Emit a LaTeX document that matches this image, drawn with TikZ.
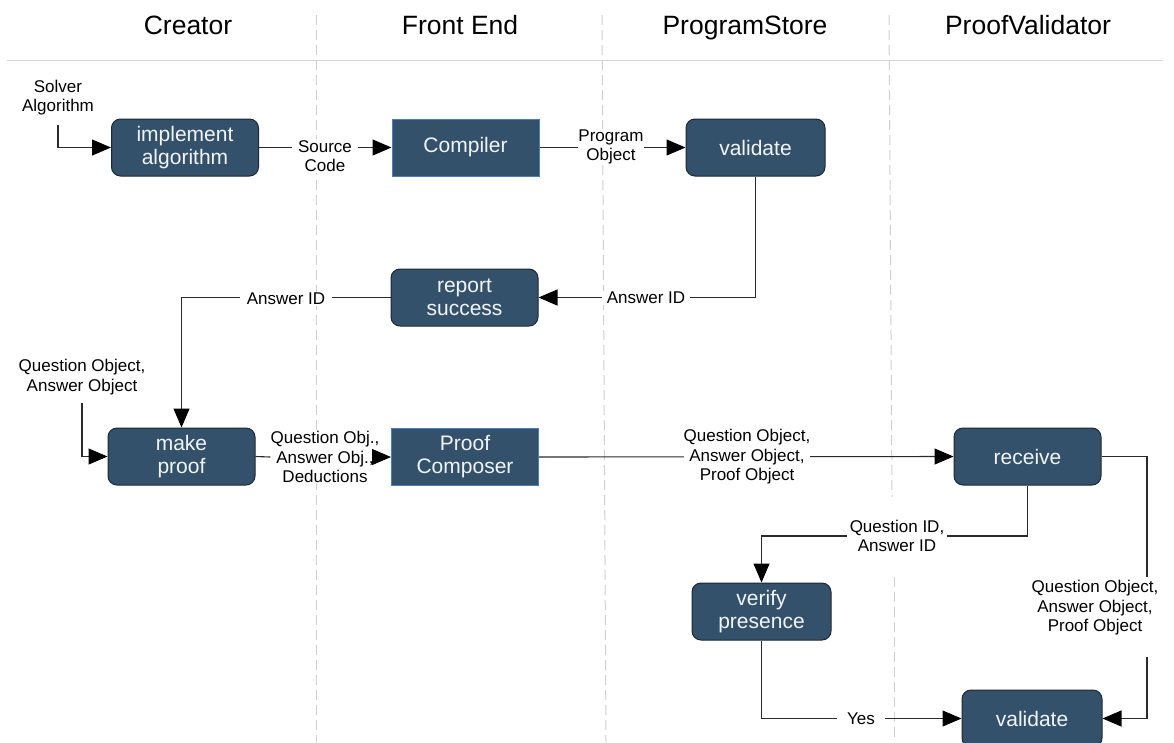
\documentclass[tikz,border=0pt]{standalone}
\usepackage{fontspec}
\setmainfont{Liberation Sans}
\usetikzlibrary{arrows.meta}
\definecolor{boxfill}{HTML}{34516B}
\definecolor{boxedge}{HTML}{1C2833}
\definecolor{bluedge}{HTML}{4A7EC2}
\definecolor{lanegray}{HTML}{CFCFCF}
\definecolor{rulegray}{HTML}{D6D6D6}
\definecolor{wire}{HTML}{2A2A2A}
\definecolor{boxtext}{HTML}{F2F5F8}

\begin{document}
\begin{tikzpicture}[x=1pt,y=-1pt,
  stepbox/.style={fill=boxfill, text=boxtext, font=\fontsize{21}{23}\selectfont,
    align=center, minimum width=147pt, minimum height=57pt, inner sep=0pt},
  roundbox/.style={stepbox, draw=boxedge, line width=1pt, rounded corners=9pt},
  squarebox/.style={stepbox, draw=bluedge, line width=1pt},
  lane/.style={draw=lanegray, line width=1pt, dash pattern=on 10pt off 5pt},
  flow/.style={draw=wire, line width=1.1pt,
    -{Triangle[length=19pt,width=16pt,fill=black,color=black]}},
  plain/.style={draw=wire, line width=1.1pt},
  tag/.style={fill=white, text=black, font=\fontsize{17}{19.5}\selectfont,
    align=center, inner xsep=2pt, inner ysep=1pt},
  lanehead/.style={font=\fontsize{26.5}{30}\selectfont, anchor=base}]

\useasboundingbox (0,0) rectangle (1174,742);
\clip (0,0) rectangle (1174,742);

% swimlane dividers and header rule
\draw[lane] (316,15) -- (316,742);
\draw[lane] (602,15) -- (606,742);
\draw[lane] (889,15) -- (892,497);
\draw[lane] (894,577) -- (894,742);
\draw[draw=rulegray, line width=1pt] (7,60) -- (1163,60);

% lane titles
\node[lanehead] (hcreator) at (188,34) {Creator};
\node[lanehead] (hfront)   at (460,34) {Front End};
\node[lanehead] (hstore)   at (745,34) {ProgramStore};
\node[lanehead] (hvalid)   at (1028,34) {ProofValidator};

% process steps
\node[roundbox]  (impl)     at (185,147.5)   {implement\\algorithm};
\node[squarebox] (comp)     at (465.5,147.5) {Compiler};
\node[roundbox, minimum width=139pt] (val1) at (755.5,147.5) {validate};
\node[roundbox]  (report)   at (464.5,297.5) {report\\success};
\node[roundbox]  (make)     at (181.5,456.5) {make\\proof};
\node[squarebox] (composer) at (465,457)     {Proof\\Composer};
\node[roundbox]  (receive)  at (1027.5,456.5) {receive};
\node[roundbox, minimum width=139pt] (verify) at (761.5,611.5) {verify\\presence};
\node[roundbox, minimum width=140pt] (val2)   at (1032,718.5)  {validate};

% free ends and label anchors
\coordinate (solverin) at (58,125);
\coordinate (questin)  at (82,403);
\coordinate (qidpos)   at (897,536);
\coordinate (sideup)   at (1147,577);
\coordinate (sidedown) at (1147,657);

% connectors
\draw[flow] (solverin) |- (impl.west);
\draw[flow] (impl.east) -- (comp.west);
\draw[flow] (comp.east) -- (val1.west);
\draw[flow] (val1.south) |- (report.east);
\draw[flow] (report.west) -| (make.north);
\draw[flow] (questin) |- (make.west);
\draw[flow] (composer.east) -- (receive.west);
\draw[flow] (receive.south) |- (qidpos) -| (verify.north);
\draw[plain] (receive.east) -| (sideup);
\draw[flow] (sidedown) |- (val2.east);
\draw[flow] (verify.south) |- (val2.west);

% connector labels
\node[tag] (lsolver) at (58,97.5) {Solver\\Algorithm};
\node[tag, inner xsep=6pt] (lsource) at (325,156) {Source\\Code};
\node[tag, inner xsep=0pt] (lprog) at (611,147) {Program\\Object};
\node[tag, inner xsep=4.5pt] (lans1) at (646,298) {Answer ID};
\node[tag, inner xsep=7pt] (lans2) at (286,299) {Answer ID};
\node[tag] (lqa) at (82,377) {Question Object,\\Answer Object};
\node[tag, inner sep=0pt] (lqap) at (747,457) {Question Object,\\Answer Object,\\Proof Object};
\node[tag, inner xsep=3pt] (lqid) at (qidpos) {Question ID,\\Answer ID};
\node[tag] (lqap2) at (1095,608) {Question Object,\\Answer Object,\\Proof Object};
\node[tag, inner xsep=10pt] (lyes) at (861,718.5) {Yes};
\node[tag, inner sep=0pt] (lqad) at (325,457) {Question Obj.,\\Answer Obj.,\\Deductions};

\draw[plain] (make.east) -- (lqad.west);
\draw[flow] (lqad.east) -- (composer.west);
\end{tikzpicture}
\end{document}
